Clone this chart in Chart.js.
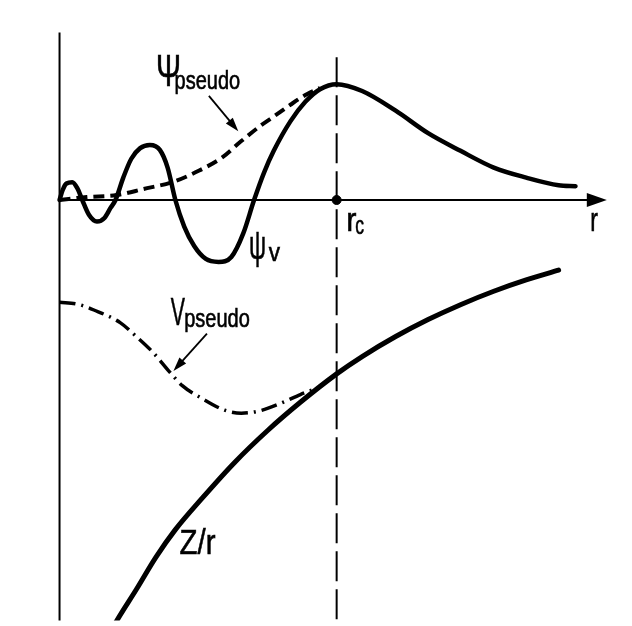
<!DOCTYPE html>
<html>
<head>
<meta charset="utf-8">
<script src="https://cdn.jsdelivr.net/npm/chart.js@4"></script>
<style>
  html, body { margin: 0; padding: 0; background: #fff; }
  #wrap { width: 632px; height: 626px; }
</style>
</head>
<body>
<div id="wrap"><canvas id="grafico"></canvas></div>
<script>
// Unidades: r = 1 en r_c, psi = 1 aprox en el máximo
const psiVR = [0, 0.011, 0.025, 0.046, 0.064, 0.082, 0.106, 0.135, 0.163, 0.184, 0.202, 0.23, 0.259, 0.291, 0.326, 0.362, 0.39, 0.418, 0.45, 0.486, 0.528, 0.574, 0.62, 0.663, 0.702, 0.738, 0.773, 0.833, 0.887, 0.94, 1.0, 1.092, 1.213, 1.33, 1.447, 1.567, 1.684, 1.801, 1.862];
const psiV = [0, 0.083, 0.14, 0.15, 0.10, 0, -0.125, -0.183, -0.15, -0.067, 0, 0.19, 0.35, 0.44, 0.467, 0.425, 0.275, 0, -0.225, -0.39, -0.5, -0.525, -0.483, -0.283, 0, 0.233, 0.417, 0.667, 0.833, 0.94, 0.983, 0.925, 0.758, 0.567, 0.417, 0.275, 0.19, 0.125, 0.117];

const psiPseudoR = [0, 0.099, 0.206, 0.301, 0.415, 0.504, 0.585, 0.656, 0.727, 0.773, 0.833, 0.894, 0.94];
const psiPseudo = [0, 0.025, 0.042, 0.092, 0.158, 0.25, 0.358, 0.5, 0.633, 0.708, 0.808, 0.9, 0.95];

const vPseudoR = [0, 0.064, 0.124, 0.22, 0.277, 0.337, 0.397, 0.443, 0.514, 0.596, 0.656, 0.716, 0.798, 0.869, 0.933];
const vPseudo = [-0.867, -0.883, -0.933, -1.042, -1.158, -1.292, -1.458, -1.575, -1.683, -1.783, -1.808, -1.792, -1.725, -1.65, -1.592];

const zrR = [0.16, 0.206, 0.277, 0.348, 0.418, 0.514, 0.631, 0.752, 0.869, 1.0, 1.092, 1.213, 1.33, 1.447, 1.567, 1.684, 1.801];
const zr = [-3.77, -3.571, -3.304, -3.029, -2.796, -2.531, -2.228, -1.953, -1.716, -1.475, -1.328, -1.158, -1.014, -0.888, -0.774, -0.678, -0.595];

const rc = 1;
const rFin = 1.975;     // punta de la flecha del eje r
const ejeTop = 1.42;
const rcTop = 1.21;
const abajo = -3.7;

function puntos(xs, ys) {
  return xs.map((x, i) => ({ x: x, y: ys[i] }));
}

function texto(ctx, s, x, y, size, sx) {
  ctx.save();
  ctx.translate(x, y);
  ctx.scale(sx, 1);
  ctx.font = size + 'px "Liberation Sans", Arial, sans-serif';
  ctx.fillStyle = '#000';
  ctx.strokeStyle = '#000';
  ctx.lineWidth = 0.6;
  ctx.textBaseline = 'alphabetic';
  ctx.fillText(s, 0, 0);
  ctx.strokeText(s, 0, 0);
  ctx.restore();
}

function flecha(ctx, x1, y1, x2, y2, largo, ancho) {
  const ang = Math.atan2(y2 - y1, x2 - x1);
  ctx.save();
  ctx.strokeStyle = '#000';
  ctx.fillStyle = '#000';
  ctx.lineWidth = 1.8;
  ctx.beginPath();
  ctx.moveTo(x1, y1);
  ctx.lineTo(x2 - Math.cos(ang) * largo * 0.8, y2 - Math.sin(ang) * largo * 0.8);
  ctx.stroke();
  ctx.beginPath();
  ctx.moveTo(x2, y2);
  ctx.lineTo(x2 - Math.cos(ang) * largo - Math.sin(ang) * ancho, y2 - Math.sin(ang) * largo + Math.cos(ang) * ancho);
  ctx.lineTo(x2 - Math.cos(ang) * largo + Math.sin(ang) * ancho, y2 - Math.sin(ang) * largo - Math.cos(ang) * ancho);
  ctx.closePath();
  ctx.fill();
  ctx.restore();
}

// Etiquetas y flechas
const anotaciones = {
  id: 'anotaciones',
  afterDatasetsDraw(chart) {
    const ctx = chart.ctx;
    const X = v => chart.scales.x.getPixelForValue(v);
    const Y = v => chart.scales.y.getPixelForValue(v);

    // punta del eje r
    const xt = X(rFin), y0 = Y(0);
    ctx.save();
    ctx.fillStyle = '#000';
    ctx.beginPath();
    ctx.moveTo(xt, y0);
    ctx.lineTo(xt - 20, y0 - 7);
    ctx.lineTo(xt - 20, y0 + 7);
    ctx.closePath();
    ctx.fill();
    ctx.restore();

    texto(ctx, 'Ψ', X(0.348), Y(0.967), 44, 0.68);
    texto(ctx, 'pseudo', X(0.415), Y(0.942), 25, 0.8);
    flecha(ctx, X(0.539), Y(0.883), X(0.645), Y(0.583), 14, 4.5);

    texto(ctx, 'ψ', X(0.684), Y(-0.5), 40, 0.6);
    texto(ctx, 'v', X(0.755), Y(-0.517), 25, 0.9);

    texto(ctx, 'r', X(1.035), Y(-0.267), 34, 0.9);
    texto(ctx, 'c', X(1.067), Y(-0.292), 25, 0.7);
    texto(ctx, 'r', X(1.915), Y(-0.267), 33, 0.7);

    texto(ctx, 'V', X(0.401), Y(-1.058), 38, 0.56);
    texto(ctx, 'pseudo', X(0.45), Y(-1.075), 25, 0.8);
    flecha(ctx, X(0.532), Y(-1.133), X(0.411), Y(-1.45), 14, 4.5);

    texto(ctx, 'Z/r', X(0.433), Y(-3.0), 35, 0.84);
  }
};

const linea = { showLine: true, pointRadius: 0, borderColor: '#000', fill: false, borderCapStyle: 'round' };

new Chart(document.getElementById('grafico'), {
  type: 'scatter',
  data: {
    datasets: [
      Object.assign({}, linea, { data: puntos([0, 0], [ejeTop, abajo]), borderWidth: 2, borderCapStyle: 'butt' }),
      Object.assign({}, linea, { data: puntos([0, rFin - 0.05], [0, 0]), borderWidth: 2, borderCapStyle: 'butt' }),
      Object.assign({}, linea, { data: puntos([rc, rc], [rcTop, abajo]), borderWidth: 2, borderDash: [30, 8], borderCapStyle: 'butt' }),
      Object.assign({}, linea, { data: puntos(psiPseudoR, psiPseudo), borderWidth: 4, borderDash: [11, 6], borderCapStyle: 'butt', cubicInterpolationMode: 'monotone' }),
      Object.assign({}, linea, { data: puntos(vPseudoR, vPseudo), borderWidth: 3.5, borderDash: [16, 6, 2, 6], borderCapStyle: 'butt', cubicInterpolationMode: 'monotone' }),
      Object.assign({}, linea, { data: puntos(zrR, zr), borderWidth: 5, cubicInterpolationMode: 'monotone' }),
      Object.assign({}, linea, { data: puntos(psiVR, psiV), borderWidth: 4.5, cubicInterpolationMode: 'monotone' }),
      { data: [{ x: rc, y: 0 }], pointRadius: 4.5, backgroundColor: '#000', borderColor: '#000' }
    ]
  },
  options: {
    responsive: true,
    maintainAspectRatio: false,
    animation: false,
    layout: { padding: 0 },
    plugins: { legend: { display: false }, tooltip: { enabled: false } },
    scales: {
      x: { type: 'linear', display: false, min: -0.195, max: 2.046 },
      y: { type: 'linear', display: false, min: -3.567, max: 1.65 }
    }
  },
  plugins: [anotaciones]
});
</script>
</body>
</html>
